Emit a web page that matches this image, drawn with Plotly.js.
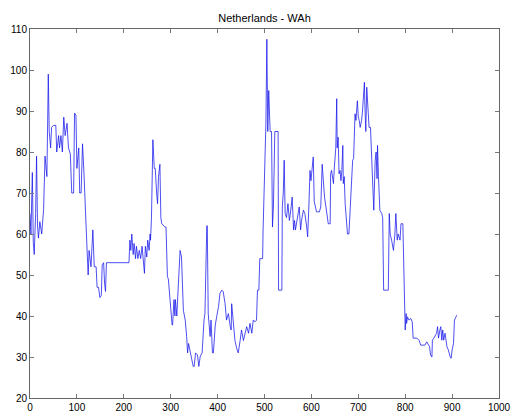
<!DOCTYPE html>
<html>
<head>
<meta charset="utf-8">
<script src="https://cdn.plot.ly/plotly-3.0.1.min.js"></script>
<style>html,body{margin:0;padding:0;background:#fff;}#chart{width:513px;height:416px;}</style>
</head>
<body>
<div id="chart"></div>
<script>
const titleText = "Netherlands - WAh";
const xTicks = [0,100,200,300,400,500,600,700,800,900,1000];
const yTicks = [20,30,40,50,60,70,80,90,100,110];

const xs = [0,2,5,7,9,12,14,16,18,21,25,29,32,36,38,39,41,44,46,50,55,57,61,63,66,69,72,75,79,82,86,89,93,95,98,100,104,106,109,112,115,118,121,124,126,130,134,137,141,143,146,149,152,154,157,159,161,163,211,213,215,217,220,222,225,227,230,233,236,239,241,244,246,249,251,254,256,257,259,261,262,265,267,270,272,274,277,279,281,288,290,293,295,303,304,307,309,310,313,320,323,327,331,334,336,338,348,350,353,357,360,363,367,371,373,377,378,380,384,386,389,391,395,398,402,405,409,412,416,419,423,427,429,430,434,437,441,444,448,451,455,458,462,466,469,473,476,480,483,485,488,490,496,497,499,501,503,505,506,507,509,510,512,515,517,519,520,522,529,530,537,538,540,542,544,547,550,553,556,559,562,564,566,569,572,574,577,579,583,586,590,592,595,597,599,601,604,606,609,611,617,620,623,625,628,631,634,636,640,641,643,647,649,652,654,655,657,659,661,663,665,667,668,670,672,674,677,680,682,684,688,690,693,695,698,700,702,704,707,709,711,713,714,716,718,720,723,726,728,731,733,736,738,740,741,743,746,750,752,754,764,766,768,771,775,778,780,783,785,789,791,795,797,799,800,802,803,805,808,812,815,817,825,830,833,842,846,852,854,857,858,861,864,867,869,871,874,876,878,880,882,885,889,892,896,898,900,903,905,908,910];
const ys = [65,60,75,58,55,65,79,62,59,63,60,66,79,74,90,99,85,81,86,86.5,86.5,80,84,81,84,80,88.5,84,87,81,79.5,70,70,89.5,89,76,81,70,70,82,75,64,58,50,56,52,61,52,52,47,47,44.5,45,52.5,53,48,46,53,53,58.5,56,60,55,57.7,54,57,54,56,54,57,53.6,50.4,57,54.4,58.5,56,60,58.5,64,76,83,76,76,70,67.4,74,77,64,62.5,61.7,61.7,49.6,49,37.8,37.8,44,40,44,40,56,54.4,41.4,39,35,31,33.3,27.7,27.7,31,30.5,27.7,30.2,31,39,40.6,62,62,40.6,35,39,31,31,37.8,39.8,42.3,45.5,46.3,45.9,43,39,40.6,37.4,36.6,43,37.4,34,32,31,34,36.6,34,35.8,37.4,35.8,38.2,35.8,39,38.6,39,46.3,46.3,54,54,61,70.6,82,87,107.5,99.8,85,95,91,85,85,61.7,66.6,74,85,85,46.3,46.3,66.6,70,78,65,64,67.4,63.3,65.8,69,61,63.3,61,63.3,65.8,66.6,61,63.3,65.8,65,61.7,59.3,68,75.5,73,75.5,78.8,68,65.8,65.4,65.4,66.6,77,72.3,69,66.6,64,62.5,62.5,74.7,75.5,72.3,76.3,81,93,81,83.6,74.7,75.5,73,75.5,81.6,72.3,74,67.4,63.3,60,60,65,70.6,78,78.4,89.3,87.7,92.5,88.5,87.7,86,87.7,90,93.3,97,91.7,85,95.8,92.5,86,86,78.8,68.2,65.8,78,80,73.5,81.6,74,65.8,65,64,46.3,46.3,65,60,58.5,56,60,65,58.5,60,58.5,62.5,62.5,52,47,36.6,40.6,38.2,39.8,39,39.4,38.6,34.6,34.6,34,32.9,32.9,33.7,32.5,30.5,30,34.1,34.6,35.4,35.8,37.4,34.6,36.6,37.4,34.1,36.6,34.1,35.8,32.5,31.7,30,29.7,31.7,33.3,39,39.8,40.2];

const trace = {
  x: xs, y: ys, type: 'scatter', mode: 'lines',
  line: {color: 'rgb(20,20,235)', width: 0.75},
  hoverinfo: 'none'
};

const axisCommon = {
  showgrid: false, zeroline: false, showline: true, linecolor: '#666', linewidth: 1,
  mirror: 'ticks', ticks: 'inside', ticklen: 4, tickcolor: '#777', tickwidth: 1,
  tickfont: {family: 'Liberation Sans, Arial, sans-serif', size: 10, color: '#000'}
};

const layout = {
  width: 513, height: 416,
  margin: {l: 30, r: 14, t: 29, b: 18, autoexpand: false},
  paper_bgcolor: '#fff', plot_bgcolor: '#fff',
  showlegend: false,
  title: {text: titleText, font: {family: 'Liberation Sans, Arial, sans-serif', size: 11, color: '#000'},
          x: 0.5, xref: 'paper', xanchor: 'center', y: 1 - 18/416, yref: 'container', yanchor: 'middle'},
  xaxis: Object.assign({}, axisCommon, {range: [0, 1000], tickvals: xTicks, ticktext: xTicks.map(String)}),
  yaxis: Object.assign({}, axisCommon, {range: [20, 110], tickvals: yTicks, ticktext: yTicks.map(String)})
};

Plotly.newPlot('chart', [trace], layout, {staticPlot: true, displayModeBar: false});
</script>
</body>
</html>
